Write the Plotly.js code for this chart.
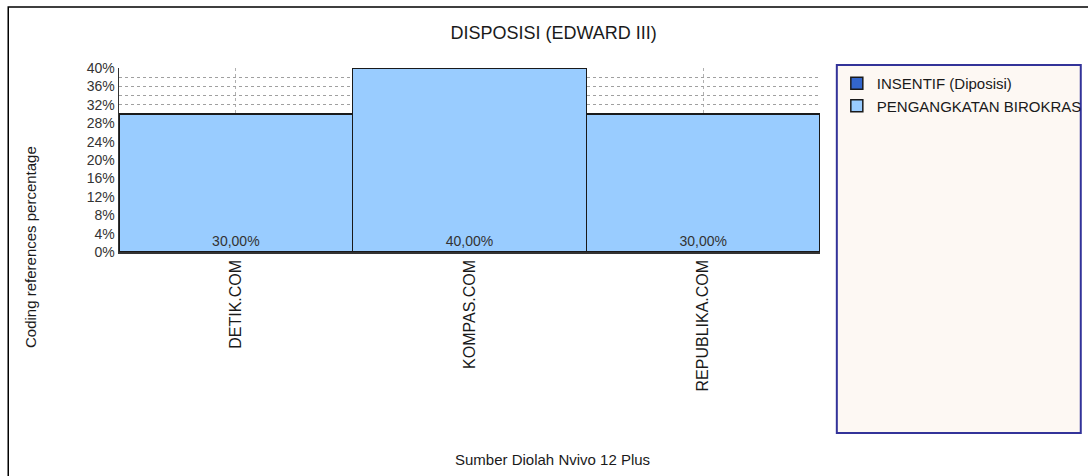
<!DOCTYPE html>
<html>
<head>
<meta charset="utf-8">
<script src="https://cdn.plot.ly/plotly-3.0.1.min.js"></script>
<style>html,body{margin:0;padding:0;background:#fff;}#chart{width:1088px;height:476px;}</style>
</head>
<body>
<div id="chart"></div>
<script>
const categories = ["DETIK.COM", "KOMPAS.COM", "REPUBLIKA.COM"];
const seriesNames = ["INSENTIF (Diposisi)", "PENGANGKATAN BIROKRAS"];
const insentifValues = [0, 0, 0];
const pengangkatanValues = [30, 40, 30];
const pengangkatanLabels = ["30,00%", "40,00%", "30,00%"];
const yTickValues = [0, 4, 8, 12, 16, 20, 24, 28, 32, 36, 40];
const yTickLabels = ["0%", "4%", "8%", "12%", "16%", "20%", "24%", "28%", "32%", "36%", "40%"];

const FONT = "Liberation Sans, Arial, sans-serif";

const traces = [
  {
    type: "bar", name: seriesNames[0], x: categories, y: insentifValues,
    marker: {color: "#3366cc", line: {color: "#1a1a1a", width: 1.5}},
    hoverinfo: "skip"
  },
  {
    type: "bar", name: seriesNames[1], x: categories, y: pengangkatanValues,
    text: pengangkatanLabels, textposition: "inside", insidetextanchor: "start",
    textangle: 0, textfont: {family: FONT, size: 14, color: "#333333"},
    marker: {color: "#99ccff", line: {color: "#1a1a1a", width: 1.5}},
    hoverinfo: "skip"
  }
];

const layout = {
  width: 1088, height: 476,
  margin: {l: 119, r: 268, t: 68, b: 224, pad: 0, autoexpand: false},
  paper_bgcolor: "#ffffff", plot_bgcolor: "#ffffff",
  barmode: "stack", bargap: 0,
  font: {family: FONT, color: "#333333", size: 14},
  showlegend: true,
  legend: {
    x: 1.024, xanchor: "left", y: 1.005, yanchor: "top", traceorder: "normal",
    bgcolor: "rgba(0,0,0,0)", borderwidth: 0,
    font: {family: FONT, size: 15, color: "#1a1a1a"},
    tracegroupgap: 0, itemwidth: 30
  },
  title: {text: "DISPOSISI (EDWARD III)", font: {family: FONT, size: 18, color: "#1a1a1a"},
          x: 0.62, xref: "paper", xanchor: "center", y: 0.931, yref: "container", yanchor: "middle"},
  xaxis: {
    type: "category", tickangle: -90, showgrid: true, gridcolor: "#b0b0b0", griddash: "dot", gridwidth: 1,
    tickfont: {family: FONT, size: 16, color: "#1a1a1a"}, ticks: "", ticklen: 0,
    showline: true, linecolor: "#333333", linewidth: 1.5, automargin: false
  },
  yaxis: {
    range: [0, 40], tickvals: yTickValues, ticktext: yTickLabels,
    showgrid: true, gridcolor: "#a0a0a0", griddash: "dot", gridwidth: 1,
    minor: {dtick: 2, tick0: 0, showgrid: true, gridcolor: "#a0a0a0", griddash: "dot", gridwidth: 1, ticks: ""},
    tickfont: {family: FONT, size: 14, color: "#333333"}, ticks: "", ticklen: 0,
    showline: true, linecolor: "#333333", linewidth: 1.5, zeroline: false, automargin: false
  },
  shapes: [
    {type: "rect", xref: "paper", yref: "paper", x0: -0.158, x1: 1.6, y0: -2.0, y1: 1.331,
     line: {color: "#000000", width: 1.5}, fillcolor: "rgba(0,0,0,0)", layer: "below"},
    {type: "rect", xref: "paper", yref: "paper", x0: 1.024, x1: 1.372, y0: -0.984, y1: 1.016,
     line: {color: "#333399", width: 2}, fillcolor: "#fdf8f3", layer: "below"}
  ],
  annotations: [
    {text: "Coding references percentage", xref: "paper", yref: "paper", x: -0.127, y: 0.027,
     textangle: -90, showarrow: false, xanchor: "center", yanchor: "middle",
     font: {family: FONT, size: 15, color: "#1a1a1a"}},
    {text: "Sumber Diolah Nvivo 12 Plus", xref: "paper", yref: "paper", x: 0.619, y: -1.13,
     showarrow: false, xanchor: "center", yanchor: "middle",
     font: {family: FONT, size: 15, color: "#1a1a1a"}}
  ]
};

Plotly.newPlot("chart", traces, layout, {displayModeBar: false, staticPlot: true});
</script>
</body>
</html>
